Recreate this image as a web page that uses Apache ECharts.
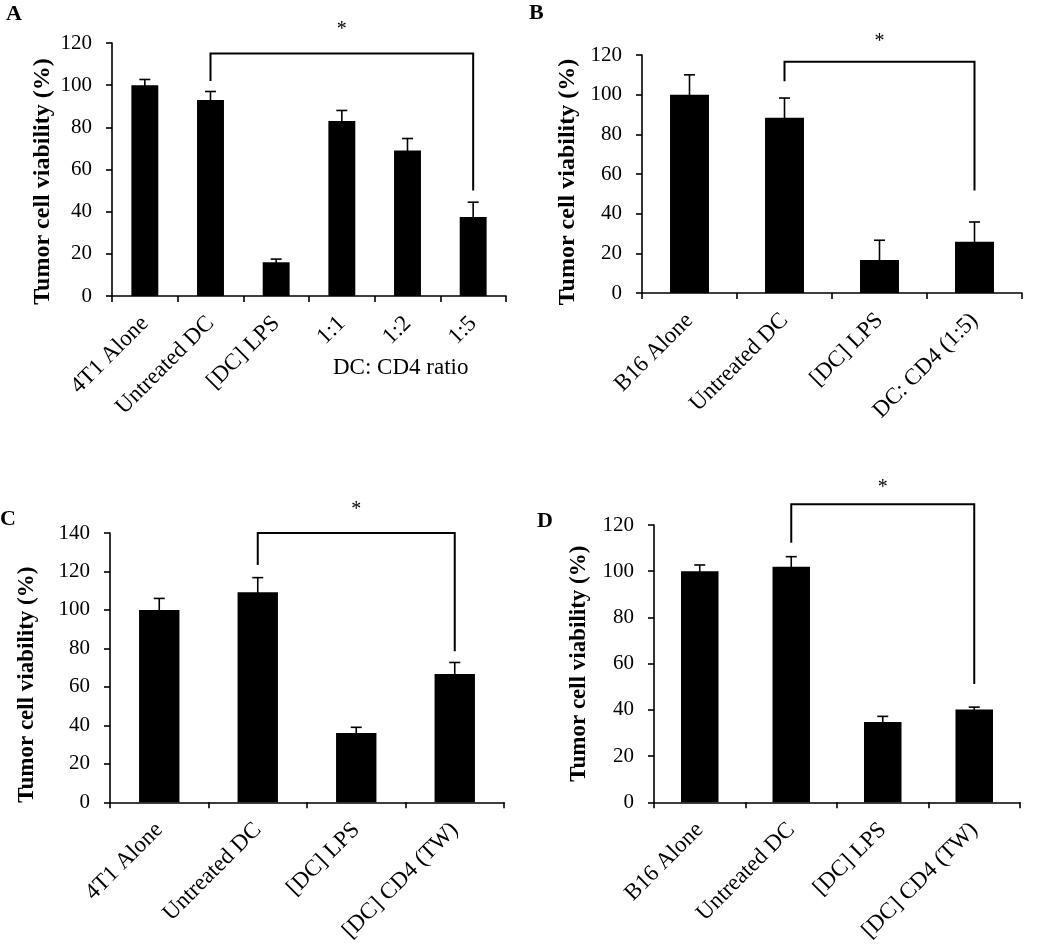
<!DOCTYPE html>
<html>
<head>
<meta charset="utf-8">
<script src="https://cdn.jsdelivr.net/npm/echarts@6/dist/echarts.min.js"></script>
<style>html,body{margin:0;padding:0;background:#fff;}#c{width:1050px;height:945px;}</style>
</head>
<body>
<div id="c"></div>
<script>
// ---- Data ----
const catsA = ['4T1 Alone', 'Untreated DC', '[DC] LPS', '1:1', '1:2', '1:5'];
const valsA = [100, 93, 16, 83, 69, 37.5];
const errA  = [2.7, 4, 1.5, 5, 5.7, 7];
const bracketA = [1, 5, 115, 102, 50]; // fromIdx, toIdx, top, leftEnd, rightEnd

const catsB = ['B16 Alone', 'Untreated DC', '[DC] LPS', 'DC: CD4 (1:5)'];
const valsB = [100, 88.3, 16.6, 25.8];
const errB  = [10, 10, 10, 10];
const bracketB = [1, 3, 116.6, 106.8, 51.7];

const catsC = ['4T1 Alone', 'Untreated DC', '[DC] LPS', '[DC] CD4 (TW)'];
const valsC = [100, 109.2, 36, 66.7];
const errC  = [6, 7.6, 3, 6];
const bracketC = [1, 3, 140, 123.4, 78.5];

const catsD = ['B16 Alone', 'Untreated DC', '[DC] LPS', '[DC] CD4 (TW)'];
const valsD = [100, 101.9, 34.8, 40.2];
const errD  = [2.7, 4.4, 2.4, 1];
const bracketD = [1, 3, 129, 112.3, 51.2];

const yMax = [120, 120, 140, 120];
const yInterval = 20;
const panelLetters = ['A', 'B', 'C', 'D'];
const yAxisTitle = 'Tumor cell viability (%)';
const ratioLabel = 'DC: CD4 ratio';
const starText = '*';

// ---- Style/layout ----
const FONT = "'Liberation Serif', 'Times New Roman', serif";
const grids = [
  {left: 112, top: 43, width: 394, height: 253},
  {left: 642, top: 55, width: 380, height: 238},
  {left: 110, top: 533, width: 394, height: 273},
  {left: 654, top: 525, width: 366, height: 281}
];
const nameGaps = [57, 62, 71, 63];
const nameSizes = [24, 24, 23, 23];
const nameShift = [12, 8, 17, 0]; // px downward shift of the axis title
const starOffsets = [24, 20, 23, 16];

const panels = [
  {cats: catsA, vals: valsA, err: errA, br: bracketA},
  {cats: catsB, vals: valsB, err: errB, br: bracketB},
  {cats: catsC, vals: valsC, err: errC, br: bracketC},
  {cats: catsD, vals: valsD, err: errD, br: bracketD}
];

function errorRender(params, api) {
  const x = api.value(0), v = api.value(1), e = api.value(2);
  const top = api.coord([x, v + e]);
  const bot = api.coord([x, v - e]);
  const h = 5.5;
  const st = {stroke: '#000', lineWidth: 1.6};
  return {type: 'group', children: [
    {type: 'line', shape: {x1: top[0], y1: top[1], x2: bot[0], y2: bot[1]}, style: st},
    {type: 'line', shape: {x1: top[0] - h, y1: top[1], x2: top[0] + h, y2: top[1]}, style: st},
    {type: 'line', shape: {x1: bot[0] - h, y1: bot[1], x2: bot[0] + h, y2: bot[1]}, style: st}
  ]};
}

function makeBracketRender(starOff) {
  return function (params, api) {
    const i0 = api.value(0), i1 = api.value(1), topV = api.value(2), lV = api.value(3), rV = api.value(4);
    const pTL = api.coord([i0, topV]);
    const pTR = api.coord([i1, topV]);
    const pL = api.coord([i0, lV]);
    const pR = api.coord([i1, rV]);
    const st = {stroke: '#000', lineWidth: 2, fill: null};
    return {type: 'group', children: [
      {type: 'polyline', shape: {points: [pL, pTL, pTR, pR]}, style: st},
      {type: 'text', x: (pTL[0] + pTR[0]) / 2, y: pTL[1] - starOff,
        style: {text: starText, font: "20px " + FONT, fill: '#000', align: 'center', verticalAlign: 'middle'}}
    ]};
  };
}

const option = {
  animation: false,
  backgroundColor: '#fff',
  grid: grids.map(g => Object.assign({containLabel: false}, g)),
  xAxis: panels.map((p, i) => ({
    type: 'category', gridIndex: i, data: p.cats,
    axisLine: {lineStyle: {color: '#000', width: 1.6}},
    axisTick: {show: true, length: 6, interval: 0, lineStyle: {color: '#000', width: 1.6}},
    axisLabel: {rotate: 45, interval: 0, margin: 24, color: '#000', fontFamily: FONT, fontSize: 23},
    splitLine: {show: false}
  })),
  yAxis: panels.map((p, i) => ({
    type: 'value', gridIndex: i, min: 0, max: yMax[i], interval: yInterval,
    name: yAxisTitle, nameLocation: 'middle', nameGap: nameGaps[i], nameRotate: 90,
    nameTextStyle: {fontFamily: FONT, fontWeight: 'bold', fontSize: nameSizes[i], color: '#000',
      padding: nameShift[i] >= 0 ? [0, 2 * nameShift[i], 0, 0] : [0, 0, 0, -2 * nameShift[i]]},
    axisLine: {show: true, lineStyle: {color: '#000', width: 1.6}},
    axisTick: {show: true, length: 6, lineStyle: {color: '#000', width: 1.6}},
    axisLabel: {margin: 20, color: '#000', fontFamily: FONT, fontSize: 21},
    splitLine: {show: false}
  })),
  series: [].concat(...panels.map((p, i) => [
    {type: 'bar', xAxisIndex: i, yAxisIndex: i, data: p.vals, barCategoryGap: '59%',
      itemStyle: {color: '#000'}},
    {type: 'custom', xAxisIndex: i, yAxisIndex: i, renderItem: errorRender,
      encode: {x: 0, y: [1, 2]}, z: 3,
      data: p.vals.map((v, k) => [k, v, p.err[k]])},
    {type: 'custom', xAxisIndex: i, yAxisIndex: i, renderItem: makeBracketRender(starOffsets[i]),
      encode: {x: [0, 1], y: [2, 3, 4]}, z: 4, clip: false,
      data: [p.br]}
  ])),
  graphic: [
    {type: 'text', left: 6, top: 3, style: {text: panelLetters[0], font: "bold 22px " + FONT, fill: '#000'}},
    {type: 'text', left: 529, top: 2, style: {text: panelLetters[1], font: "bold 22px " + FONT, fill: '#000'}},
    {type: 'text', left: 0, top: 508, style: {text: panelLetters[2], font: "bold 22px " + FONT, fill: '#000'}},
    {type: 'text', left: 537, top: 510, style: {text: panelLetters[3], font: "bold 22px " + FONT, fill: '#000'}},
    {type: 'text', left: 333, top: 356, style: {text: ratioLabel, font: "23px " + FONT, fill: '#000'}}
  ]
};

const chart = echarts.init(document.getElementById('c'), null, {renderer: 'canvas'});
chart.setOption(option);
</script>
</body>
</html>
